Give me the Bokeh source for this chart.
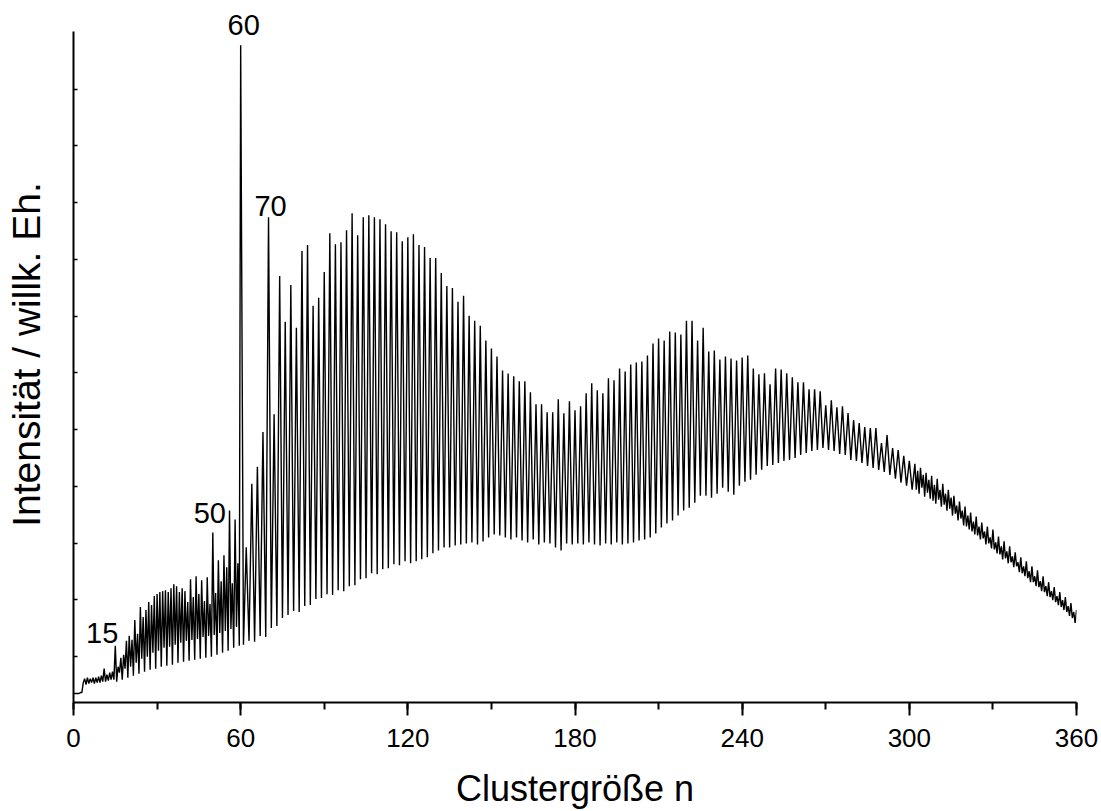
from bokeh.plotting import figure
from bokeh.models import (Range1d, FixedTicker, SingleIntervalTicker,
                          CustomJSTickFormatter, Label)
from bokeh.embed import file_html
from bokeh.resources import INLINE

# ---------------- data (intensity in arbitrary units) ----------------
# onset of the spectrum, sampled every half cluster size
onset_n = [0, 0.5, 1, 1.5, 2, 2.5, 3, 3.5, 4, 4.5, 5, 5.5, 6, 6.5, 7, 7.5,
           8, 8.5, 9, 9.5, 10, 10.5, 11, 11.5, 12, 12.5, 13, 13.5, 14, 14.5]
onset_int = [9, 9, 9, 9, 9, 10, 10, 20, 24, 18, 25, 19, 24, 20, 25, 19,
             25, 20, 26, 20, 27, 21, 34, 21, 28, 22, 30, 23, 31, 23]

# small clusters: a peak at every n, minimum half a step later
small_n = list(range(15, 60))
small_peak = [57, 36, 45, 48, 62, 67, 63, 83, 69, 96,
              86, 93, 101, 98, 107, 109, 111, 112, 113, 111,
              115, 119, 117, 111, 115, 112, 101, 124, 106, 127,
              109, 123, 102, 126, 99, 171, 110, 143, 122, 148,
              136, 193, 120, 184, 140]
small_valley = [21, 30, 23, 34, 25, 36, 27, 40, 29, 44,
                31, 46, 33, 50, 34, 52, 36, 55, 37, 56,
                38, 58, 40, 60, 41, 62, 42, 63, 43, 64,
                44, 66, 45, 67, 46, 68, 48, 70, 50, 72,
                52, 74, 55, 76, 57]

# fullerene range: peaks at even n, minima at the odd n in between
even_n = list(range(60, 302, 2))
even_peak = [661, 156, 220, 237, 272, 488, 290, 429, 383, 420,
             377, 454, 460, 399, 407, 433, 472, 461, 463, 475,
             492, 470, 488, 490, 488, 486, 481, 474, 473, 464,
             468, 471, 460, 458, 447, 447, 432, 419, 417, 403,
             409, 389, 384, 379, 364, 356, 348, 334, 331, 328,
             323, 323, 312, 300, 300, 292, 292, 305, 291, 303,
             294, 298, 311, 321, 314, 311, 326, 324, 336, 333,
             340, 342, 343, 349, 361, 366, 364, 373, 372, 370,
             384, 384, 364, 377, 353, 354, 345, 348, 346, 344,
             347, 349, 336, 330, 331, 320, 336, 335, 331, 327,
             322, 322, 315, 315, 313, 299, 304, 297, 298, 291,
             284, 281, 277, 276, 276, 261, 269, 256, 254, 248,
             243]
odd_valley = [58, 62, 61, 67, 66, 75, 77, 85, 88, 92,
              91, 97, 98, 104, 105, 109, 108, 113, 112, 117,
              118, 124, 125, 130, 129, 134, 135, 139, 138, 142,
              140, 142, 144, 146, 150, 153, 156, 156, 158, 159,
              160, 161, 159, 162, 166, 169, 168, 166, 164, 166,
              163, 161, 164, 159, 161, 160, 156, 153, 160, 159,
              160, 159, 161, 159, 158, 160, 159, 161, 159, 160,
              161, 163, 164, 166, 170, 176, 180, 183, 188, 193,
              196, 201, 208, 208, 206, 210, 216, 212, 209, 218,
              222, 224, 229, 234, 238, 239, 241, 243, 244, 246,
              249, 251, 253, 254, 256, 254, 253, 250, 249, 244,
              243, 241, 238, 236, 234, 232, 229, 225, 221, 218,
              214]

# large clusters: noisy tail, sampled every half cluster size from n = 302
tail_int = [240, 214, 233, 210, 236, 216, 229, 207,
            231, 211, 224, 205, 228, 203, 219, 200,
            225, 204, 214, 197, 220, 199, 210, 193,
            214, 195, 206, 188, 208, 190, 198, 183,
            202, 185, 193, 178, 197, 177, 188, 174,
            191, 172, 182, 169, 187, 168, 177, 164,
            181, 165, 172, 159, 177, 160, 166, 155,
            174, 154, 161, 150, 167, 149, 157, 144,
            162, 145, 152, 140, 157, 141, 147, 136,
            151, 137, 141, 131, 146, 130, 137, 127,
            142, 125, 132, 121, 137, 121, 127, 117,
            133, 116, 122, 112, 127, 111, 117, 107,
            121, 106, 112, 103, 116, 101, 107, 98,
            111, 96, 103, 93, 106, 91, 97, 87,
            100, 85, 91, 80, 93]
tail_n = [302 + 0.5 * k for k in range(len(tail_int))]

label_n = [15, 50, 60, 70]
x_ticks_interval = 60
y_axis_extent = (0, 675)
y_tick_values = [46.0 + 57.1 * k for k in range(11)]

# ---------------- build spectrum trace ----------------
xs = list(onset_n)
ys = list(onset_int)
for n, pk, vl in zip(small_n, small_peak, small_valley):
    xs += [n, n + 0.5]
    ys += [pk, vl]
for n, pk, vl in zip(even_n, even_peak, odd_valley):
    xs += [n, n + 1]
    ys += [pk, vl]
xs += tail_n
ys += tail_int

peak_lookup = dict(zip(small_n, small_peak))
peak_lookup.update(dict(zip(even_n, even_peak)))

FONT = "Liberation Sans"

p = figure(width=1101, height=811,
           x_range=Range1d(0, 360), y_range=Range1d(0, 700),
           output_backend="svg", toolbar_location=None,
           min_border_left=73, min_border_right=25,
           min_border_top=6, min_border_bottom=105)
p.outline_line_color = None
p.grid.visible = False
p.background_fill_color = "white"
p.border_fill_color = "white"

p.line(xs, ys, line_color="black", line_width=1.4)

# x axis
xa = p.xaxis[0]
xa.ticker = SingleIntervalTicker(interval=x_ticks_interval, num_minor_ticks=2)
xa.axis_line_width = 2
xa.major_tick_line_width = 2
xa.minor_tick_line_width = 2
xa.major_tick_in = 0
xa.major_tick_out = 13
xa.minor_tick_in = 0
xa.minor_tick_out = 7
xa.major_label_text_font = FONT
xa.major_label_text_font_size = "26px"
xa.major_label_text_color = "black"
xa.major_label_standoff = 13
xa.axis_label = "Clustergröße n"
xa.axis_label_text_font = FONT
xa.axis_label_text_font_size = "36px"
xa.axis_label_text_font_style = "normal"
xa.axis_label_text_color = "black"
xa.axis_label_standoff = 18

# y axis
ya = p.yaxis[0]
ya.bounds = y_axis_extent
ya.ticker = FixedTicker(ticks=y_tick_values, minor_ticks=[])
ya.formatter = CustomJSTickFormatter(code="return ''")
ya.axis_line_width = 2
ya.major_tick_line_width = 1.5
ya.major_tick_in = 4
ya.major_tick_out = 0
ya.minor_tick_in = 0
ya.minor_tick_out = 0
ya.major_label_standoff = 0
ya.axis_label = "Intensität / willk. Eh."
ya.axis_label_text_font = FONT
ya.axis_label_text_font_size = "39px"
ya.axis_label_text_font_style = "normal"
ya.axis_label_text_color = "black"
ya.axis_label_standoff = 26

# peak annotations (x offset, y offset to the digit centre, alignment)
offsets = {15: (3, 13, "right"), 50: (-3, 19, "center"),
           60: (3, 20, "center"), 70: (2, 11, "center")}
for n in label_n:
    dx, dy, al = offsets[n]
    p.add_layout(Label(x=n, y=peak_lookup[n], text=str(n),
                       x_offset=dx, y_offset=dy,
                       text_align=al, text_baseline="middle",
                       text_font=FONT, text_font_size="29px",
                       text_color="black"))

open("out.html", "w").write(file_html(p, INLINE))
